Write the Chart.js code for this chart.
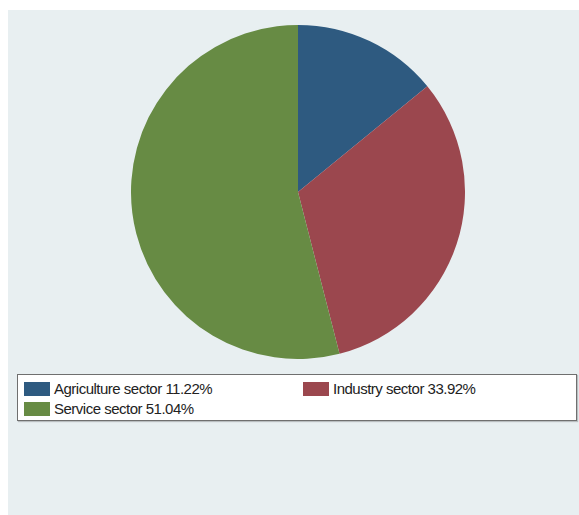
<!DOCTYPE html>
<html>
<head>
<meta charset="utf-8">
<script src="https://cdn.jsdelivr.net/npm/chart.js@4"></script>
<style>
  body { margin: 0; background: #fff; width: 579px; height: 515px; overflow: hidden; font-family: "Liberation Sans", Arial, sans-serif; }
  .panel { position: absolute; left: 8px; top: 10px; width: 571px; height: 505px; background: #e8eff1; }
  .pie-wrap { position: absolute; left: 131px; top: 25px; width: 334px; height: 334px; }
  .legend { position: absolute; left: 17px; top: 374px; width: 558px; height: 45px; background: #fff; border: 1px solid #6f6f6f; box-shadow: 1px 1px 1px #b9bec0; }
  .item { position: absolute; display: flex; align-items: center; font-size: 15px; letter-spacing: -0.5px; color: #222; white-space: nowrap; }
  .swatch { width: 26px; height: 14px; margin-right: 4px; }
</style>
</head>
<body>
<div class="panel"></div>
<div class="pie-wrap"><canvas id="pieChart"></canvas></div>
<div class="legend" id="legend"></div>
<script>
  // Sector shares
  const categories = ['Agriculture sector 11.22%', 'Industry sector 33.92%', 'Service sector 51.04%'];
  const shares = [14.1, 31.9, 54.0];
  const colors = ['#2e5a80', '#9b474e', '#678b44'];

  // legend slots (left, top) inside the box
  const legendSlots = [[6, 5], [285, 5], [6, 25]];

  const ctx = document.getElementById('pieChart').getContext('2d');
  new Chart(ctx, {
    type: 'pie',
    data: {
      labels: categories,
      datasets: [{
        data: shares,
        backgroundColor: colors,
        borderWidth: 0
      }]
    },
    options: {
      responsive: true,
      maintainAspectRatio: false,
      animation: false,
      layout: { padding: 0 },
      plugins: {
        legend: { display: false },
        tooltip: { enabled: false }
      }
    }
  });

  // Legend built from the same arrays
  const legendEl = document.getElementById('legend');
  categories.forEach((label, i) => {
    const item = document.createElement('div');
    item.className = 'item';
    item.style.left = legendSlots[i][0] + 'px';
    item.style.top = legendSlots[i][1] + 'px';
    const sw = document.createElement('span');
    sw.className = 'swatch';
    sw.style.background = colors[i];
    const txt = document.createElement('span');
    txt.textContent = label;
    item.appendChild(sw);
    item.appendChild(txt);
    legendEl.appendChild(item);
  });
</script>
</body>
</html>
